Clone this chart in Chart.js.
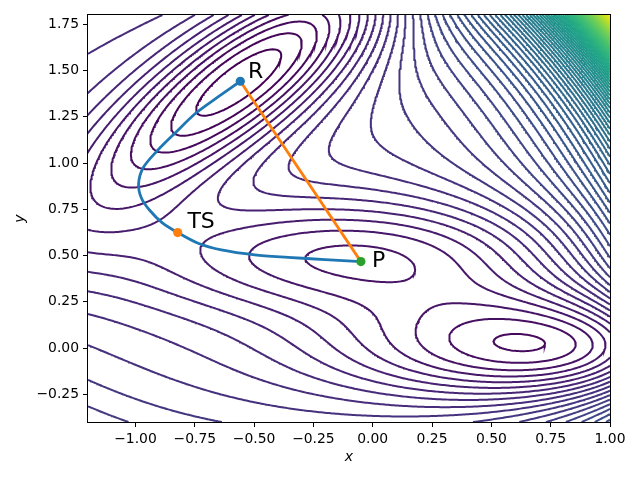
<!DOCTYPE html>
<html>
<head>
<meta charset="utf-8">
<script src="https://cdn.jsdelivr.net/npm/chart.js@4.4.1/dist/chart.umd.min.js"></script>
<style>
  html, body { margin: 0; padding: 0; background: #fff; }
</style>
</head>
<body>
<canvas id="chart" width="640" height="480"></canvas>
<script>
// Müller-Brown potential, one entry per gaussian term
const termA   = [-200, -100, -170, 15];
const termAxx = [-1, -1, -6.5, 0.7];
const termBxy = [0, 0, 11, 0.6];
const termCyy = [-10, -10, -6.5, 0.7];
const termX0  = [1, 0, -0.5, -1];
const termY0  = [0, 0.5, 1.5, 1];

// contour levels (every 15 units)
const levelFirst = -135;
const levelStep = 15;
const levelLast = 1005;

// minimum energy path R -> TS -> P
const pathX = [-0.558, -0.652, -0.745, -0.833, -0.909, -0.968, -0.987, -0.975, -0.941, -0.888, -0.822, -0.736, -0.638, -0.497, -0.357, -0.201, -0.050];
const pathY = [1.442, 1.357, 1.270, 1.162, 1.065, 0.973, 0.886, 0.811, 0.746, 0.678, 0.624, 0.566, 0.530, 0.503, 0.490, 0.478, 0.467];

// straight initial guess R -> P
const guessX = [-0.558, -0.050];
const guessY = [1.442, 0.467];

// stationary points
const pointNames = ['R', 'TS', 'P'];
const pointX = [-0.558, -0.822, -0.050];
const pointY = [1.442, 0.624, 0.467];
const labelX = [-0.526, -0.781, -0.003];
const labelY = [1.459, 0.647, 0.436];

const xTicks = [-1.0, -0.75, -0.5, -0.25, 0.0, 0.25, 0.5, 0.75, 1.0];
const yTicks = [-0.25, 0.0, 0.25, 0.5, 0.75, 1.0, 1.25, 1.5, 1.75];

const xMin = -1.2, xMax = 1.0, yMin = -0.4, yMax = 1.8;

function potential(x, y) {
    let v = 0;
    for (let k = 0; k < termA.length; k++) {
        const dx = x - termX0[k], dy = y - termY0[k];
        v += termA[k] * Math.exp(termAxx[k] * dx * dx + termBxy[k] * dx * dy + termCyy[k] * dy * dy);
    }
    return v;
}

// grid of the potential
const NX = 281, NY = 281;
const gx = [], gy = [];
for (let i = 0; i < NX; i++) gx.push(xMin + (xMax - xMin) * i / (NX - 1));
for (let j = 0; j < NY; j++) gy.push(yMin + (yMax - yMin) * j / (NY - 1));
const Z = new Float64Array(NX * NY);
for (let j = 0; j < NY; j++) {
    for (let i = 0; i < NX; i++) Z[j * NX + i] = potential(gx[i], gy[j]);
}

// marching squares, segments chained into polylines
function contourLines(level) {
    const pts = new Map();
    const segs = [];
    function edge(key, xa, ya, va, xb, yb, vb) {
        if (!pts.has(key)) {
            const t = (level - va) / (vb - va);
            pts.set(key, [xa + t * (xb - xa), ya + t * (yb - ya)]);
        }
        return key;
    }
    for (let j = 0; j < NY - 1; j++) {
        for (let i = 0; i < NX - 1; i++) {
            const v00 = Z[j * NX + i], v10 = Z[j * NX + i + 1];
            const v01 = Z[(j + 1) * NX + i], v11 = Z[(j + 1) * NX + i + 1];
            const s00 = v00 > level, s10 = v10 > level, s01 = v01 > level, s11 = v11 > level;
            if (s00 === s10 && s10 === s11 && s11 === s01) continue;
            let b, r, t, l;
            if (s00 !== s10) b = edge(2 * (j * NX + i), gx[i], gy[j], v00, gx[i + 1], gy[j], v10);
            if (s10 !== s11) r = edge(2 * (j * NX + i + 1) + 1, gx[i + 1], gy[j], v10, gx[i + 1], gy[j + 1], v11);
            if (s01 !== s11) t = edge(2 * ((j + 1) * NX + i), gx[i], gy[j + 1], v01, gx[i + 1], gy[j + 1], v11);
            if (s00 !== s01) l = edge(2 * (j * NX + i) + 1, gx[i], gy[j], v00, gx[i], gy[j + 1], v01);
            const list = [b, r, t, l].filter(k => k !== undefined);
            if (list.length === 2) {
                segs.push(list);
            } else if (list.length === 4) {
                const centre = (v00 + v10 + v01 + v11) / 4 > level;
                if (centre === s00) { segs.push([b, r]); segs.push([t, l]); }
                else { segs.push([b, l]); segs.push([r, t]); }
            }
        }
    }
    const adj = new Map();
    segs.forEach((s, n) => {
        s.forEach(k => {
            if (!adj.has(k)) adj.set(k, []);
            adj.get(k).push(n);
        });
    });
    const used = new Uint8Array(segs.length);
    function walk(key) {
        const out = [];
        while (true) {
            let next = -1;
            for (const m of adj.get(key)) if (!used[m]) { next = m; break; }
            if (next < 0) break;
            used[next] = 1;
            key = segs[next][0] === key ? segs[next][1] : segs[next][0];
            out.push(key);
        }
        return out;
    }
    const data = [];
    for (let n = 0; n < segs.length; n++) {
        if (used[n]) continue;
        used[n] = 1;
        const fwd = walk(segs[n][1]);
        const back = walk(segs[n][0]).reverse();
        const chain = back.concat(segs[n], fwd);
        chain.forEach(k => { const p = pts.get(k); data.push({x: p[0], y: p[1]}); });
        data.push({x: NaN, y: NaN});
    }
    return data;
}

// viridis colour map
const viridisStops = ['#440154', '#471365', '#482475', '#46337f', '#414487', '#3b528b', '#355f8d', '#2f6c8e',
    '#2a788e', '#25858e', '#21918c', '#1e9c89', '#22a884', '#2fb47c', '#44bf70', '#5ec962',
    '#7ad151', '#9bd93c', '#bddf26', '#dfe318', '#fde725'];
function viridis(f) {
    f = Math.min(1, Math.max(0, f));
    const p = f * (viridisStops.length - 1);
    const i = Math.min(Math.floor(p), viridisStops.length - 2);
    const t = p - i;
    const a = parseInt(viridisStops[i].slice(1), 16), b = parseInt(viridisStops[i + 1].slice(1), 16);
    const mix = sh => Math.round(((a >> sh) & 255) * (1 - t) + ((b >> sh) & 255) * t);
    return 'rgb(' + mix(16) + ',' + mix(8) + ',' + mix(0) + ')';
}

const datasets = [];
for (let lv = levelFirst; lv <= levelLast; lv += levelStep) {
    const data = contourLines(lv);
    if (!data.length) continue;
    datasets.push({
        data: data,
        borderColor: viridis((lv - levelFirst) / (levelLast - levelFirst)),
        borderWidth: 2,
        pointRadius: 0,
        order: 10
    });
}

datasets.push({
    data: pathX.map((x, i) => ({x: x, y: pathY[i]})),
    borderColor: '#1f77b4',
    borderWidth: 2.8,
    pointRadius: 0,
    tension: 0.3,
    order: 3
});
datasets.push({
    data: guessX.map((x, i) => ({x: x, y: guessY[i]})),
    borderColor: '#ff7f0e',
    borderWidth: 2.8,
    pointRadius: 0,
    order: 2
});
datasets.push({
    data: pointX.map((x, i) => ({x: x, y: pointY[i]})),
    showLine: false,
    pointRadius: 4.6,
    pointBorderWidth: 0,
    pointBackgroundColor: ['#1f77b4', '#ff7f0e', '#2ca02c'],
    order: 1
});

const tickText = v => (v < 0 ? '\u2212' : '') + Math.abs(v).toFixed(2);

const framePlugin = {
    id: 'frame',
    afterDatasetsDraw(chart) {
        const {ctx, chartArea: a, scales} = chart;
        ctx.save();
        // point labels
        ctx.fillStyle = '#000';
        ctx.font = '22px "DejaVu Sans"';
        ctx.textBaseline = 'alphabetic';
        ctx.textAlign = 'left';
        pointNames.forEach((name, i) => {
            ctx.fillText(name, scales.x.getPixelForValue(labelX[i]), scales.y.getPixelForValue(labelY[i]));
        });
        // spines
        ctx.strokeStyle = '#000';
        ctx.lineWidth = 1;
        ctx.strokeRect(Math.round(a.left) - 0.5, Math.round(a.top) - 0.5,
            Math.round(a.right - a.left) + 1, Math.round(a.bottom - a.top) + 1);
        // axis titles
        ctx.font = 'italic 14px "DejaVu Sans"';
        ctx.textAlign = 'center';
        ctx.textBaseline = 'middle';
        ctx.fillText('x', (a.left + a.right) / 2, a.bottom + 35);
        ctx.translate(20, (a.top + a.bottom) / 2);
        ctx.rotate(-Math.PI / 2);
        ctx.fillText('y', 0, 0);
        ctx.restore();
    }
};

Chart.defaults.font.family = '"DejaVu Sans"';
Chart.defaults.color = '#000';

new Chart(document.getElementById('chart').getContext('2d'), {
    type: 'line',
    data: { datasets: datasets },
    options: {
        responsive: false,
        animation: false,
        events: [],
        layout: { padding: { left: 0, right: 30, top: 15, bottom: 0 } },
        plugins: { legend: { display: false }, tooltip: { enabled: false } },
        elements: { point: { radius: 0 }, line: { tension: 0 } },
        scales: {
            x: {
                type: 'linear',
                min: xMin,
                max: xMax,
                afterBuildTicks: s => { s.ticks = xTicks.map(v => ({value: v})); },
                afterFit: s => { s.height = 58; },
                ticks: { callback: tickText, font: { size: 13.9 }, padding: 4, maxRotation: 0, autoSkip: false },
                grid: { drawOnChartArea: false, tickLength: 5, tickColor: '#000', tickWidth: 1 },
                border: { display: false }
            },
            y: {
                type: 'linear',
                min: yMin,
                max: yMax,
                afterBuildTicks: s => { s.ticks = yTicks.map(v => ({value: v})); },
                afterFit: s => { s.width = 88; },
                ticks: { callback: tickText, font: { size: 13.9 }, padding: 4, autoSkip: false },
                grid: { drawOnChartArea: false, tickLength: 5, tickColor: '#000', tickWidth: 1 },
                border: { display: false }
            }
        }
    },
    plugins: [framePlugin]
});
</script>
</body>
</html>
